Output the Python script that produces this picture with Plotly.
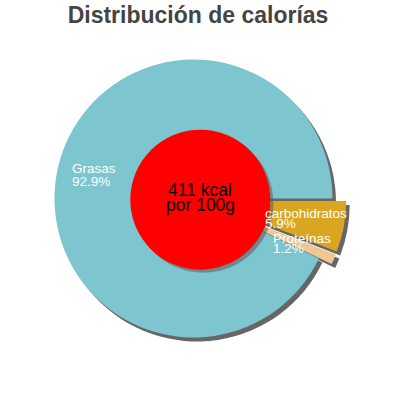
import plotly.graph_objects as go

# data
labels = ["carbohidratos", "Proteínas", "Grasas"]
values = [5.9, 1.2, 92.9]
colors = ["#DAA520", "#EFC795", "#7DC5CF"]
pulls = [0.1, 0.1, 0]
title = "Distribución de calorías"
center_lines = ["411 kcal", "por 100g"]

# pie geometry in pixels (400x400 page)
W = H = 400
cx, cy, r = 193.5, 198.5, 139
half = r * (1 + max(pulls))


def dom(dx=0, dy=0):
    return dict(x=[(cx + dx - half) / W, (cx + dx + half) / W],
                y=[(H - (cy + dy + half)) / H, (H - (cy + dy - half)) / H])


def px(x, y):
    return x / W, (H - y) / H


fig = go.Figure()

# shadow
fig.add_trace(go.Pie(
    labels=labels, values=values, pull=pulls, sort=False,
    direction="clockwise", rotation=90, domain=dom(3.5, 4),
    marker=dict(colors=["#666666"] * 3, line=dict(width=0)),
    textinfo="none", hoverinfo="skip", showlegend=False,
))

fig.add_trace(go.Pie(
    labels=labels, values=values, pull=pulls, sort=False,
    direction="clockwise", rotation=90, domain=dom(),
    marker=dict(colors=colors, line=dict(width=0)),
    textinfo="none", showlegend=False,
))

# red centre with a soft shadow
rcx, rcy, rr = 200.3, 199.7, 70
for off, col in [(3, "rgba(90,90,90,0.55)"), (0, "#FF0000")]:
    x0, y1 = px(rcx - rr + off, rcy - rr + off)
    x1, y0 = px(rcx + rr + off, rcy + rr + off)
    fig.add_shape(type="circle", xref="paper", yref="paper",
                  x0=x0, x1=x1, y0=y0, y1=y1,
                  fillcolor=col, line=dict(width=0))

for line, yy in zip(center_lines, [190, 205]):
    x, y = px(rcx, yy)
    fig.add_annotation(x=x, y=y, xref="paper", yref="paper", text=line,
                       showarrow=False, yanchor="middle",
                       font=dict(size=17.5, color="black", family="Liberation Sans"))

# slice labels (name line, percent line)
label_pos = {"Grasas": (70, 168.5, 181.5),
             "carbohidratos": (263, 213.5, 223.5),
             "Proteínas": (271, 238, 248.5)}
for lab, val in zip(labels, values):
    lx, y_name, y_pct = label_pos[lab]
    for txt, yy in [(lab, y_name), (f"{val}%", y_pct)]:
        x, y = px(lx, yy)
        fig.add_annotation(x=x, y=y, xref="paper", yref="paper", text=txt,
                           showarrow=False, xanchor="left", yanchor="middle",
                           font=dict(size=13.5, color="white", family="Liberation Sans"))

tx, ty = px(198, 15)
fig.update_layout(
    width=W, height=H,
    margin=dict(l=0, r=0, t=0, b=0),
    paper_bgcolor="white", plot_bgcolor="white",
    title=dict(text=f"<b>{title}</b>", x=tx, y=ty, xanchor="center", yanchor="middle",
               font=dict(size=23, color="#444444", family="Liberation Sans")),
)

fig.write_html("out.html", config={"displayModeBar": False},
               post_script="document.body.style.margin='0';")
